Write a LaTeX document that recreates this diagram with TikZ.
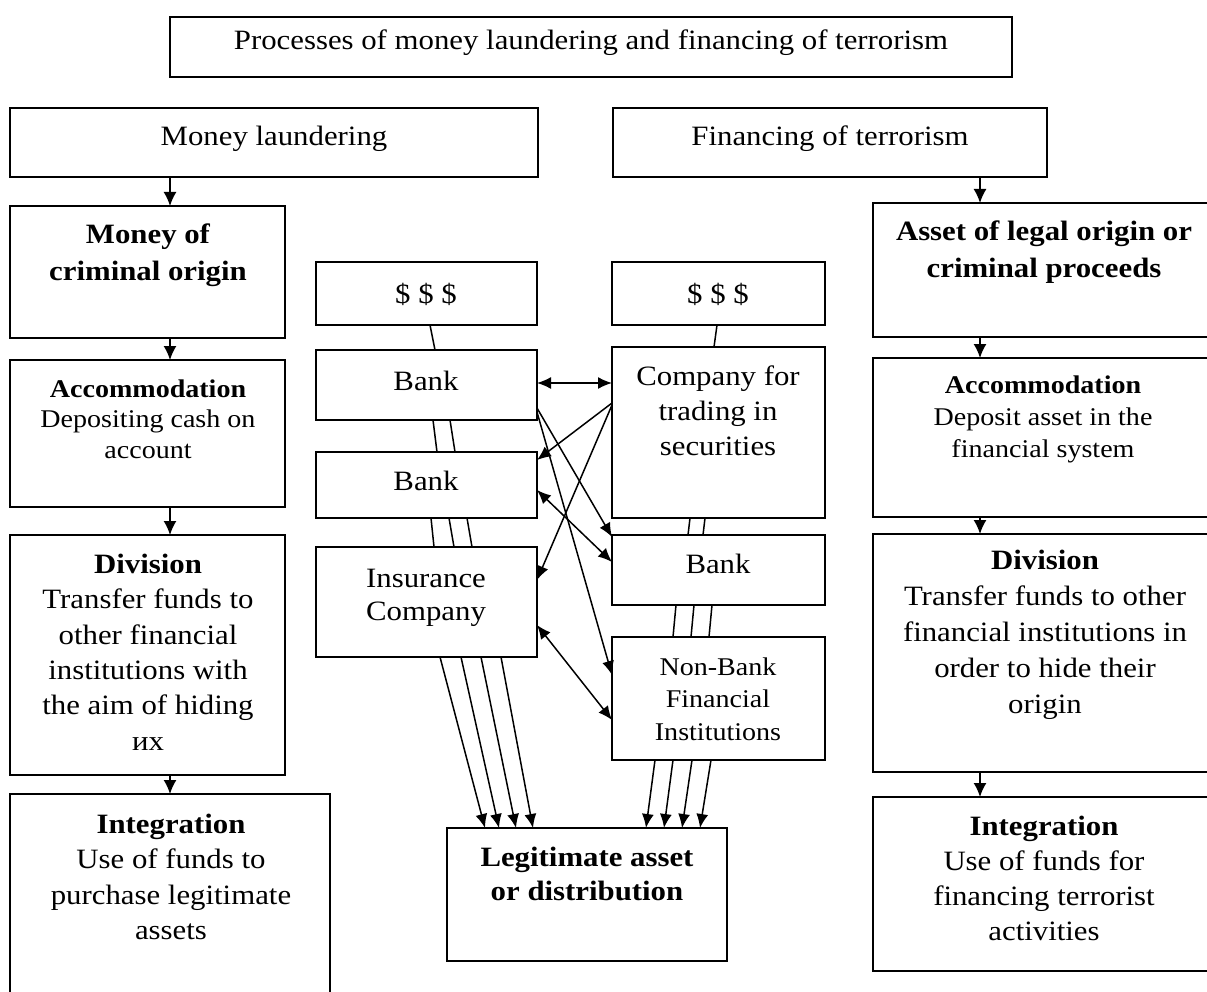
\documentclass[tikz,border=0pt]{standalone}
\usepackage{fontspec}
\setmainfont{Liberation Serif}[FakeStretch=1.1]
\usetikzlibrary{arrows.meta,fit}
\tikzset{
  bx/.style={draw, line width=2pt, fill=white, inner sep=0pt, outer sep=0pt},
  ln/.style={line width=1.5pt},
  ar/.style={ln, -{Latex[length=14pt,width=12pt]}},
  dar/.style={ln, {Latex[length=14pt,width=12pt]}-{Latex[length=14pt,width=12pt]}},
  var/.style={line width=1.6pt, -{Latex[length=14pt,width=13pt]}},
}
\newcommand\bxn[5]{\node[bx, fit={(#2,#3)(#4,#5)}] (#1) {};}
\newcommand\mytxt[6]{\node[font=\fontsize{#4}{#5}\selectfont, align=center, inner sep=0pt, anchor=north] (#1) at (#2,{#3-0.7*#5}) {\strut #6};}
\begin{document}
\begin{tikzpicture}[x=1pt,y=-1pt]
\path[use as bounding box] (0,0) rectangle (1207,992);
\clip (0,0) rectangle (1207,992);
% boxes
\bxn{title}{170}{17}{1012}{77}
\bxn{ml}{10}{108}{538}{177}
\bxn{ft}{613}{108}{1047}{177}
\bxn{mco}{10}{206}{285}{338}
\bxn{asset}{873}{203}{1215}{337}
\bxn{accL}{10}{360}{285}{507}
\bxn{accR}{873}{358}{1215}{517}
\bxn{divL}{10}{535}{285}{775}
\bxn{divR}{873}{534}{1215}{772}
\bxn{intL}{10}{794}{330}{1000}
\bxn{intR}{873}{797}{1215}{971}
\bxn{dl}{316}{262}{537}{325}
\bxn{dr}{612}{262}{825}{325}
\bxn{b1}{316}{350}{537}{420}
\bxn{b2}{316}{452}{537}{518}
\bxn{ins}{316}{547}{537}{657}
\bxn{comp}{612}{347}{825}{518}
\bxn{br}{612}{535}{825}{605}
\bxn{nb}{612}{637}{825}{760}
\bxn{leg}{447}{828}{727}{961}
% column arrows
\draw[var] (ml.south -| 170,0) -- (mco.north -| 170,0);
\draw[var] (mco.south -| 170,0) -- (accL.north -| 170,0);
\draw[var] (accL.south -| 170,0) -- (divL.north -| 170,0);
\draw[var] (divL.south -| 170,0) -- (intL.north -| 170,0);
\draw[var] (ft.south -| 980,0) -- (asset.north -| 980,0);
\draw[var] (asset.south -| 980,0) -- (accR.north -| 980,0);
\draw[var] (accR.south -| 980,0) -- (divR.north -| 980,0);
\draw[var] (divR.south -| 980,0) -- (intR.north -| 980,0);
% left flow lines
\draw[ln] (dl.south -| 430,0) -- (b1.north -| 435,0);
\draw[ln] (b1.south -| 433,0) -- (b2.north -| 437,0);
\draw[ln] (b1.south -| 450,0) -- (b2.north -| 455,0);
\draw[ln] (b2.south -| 431,0) -- (ins.north -| 434,0);
\draw[ln] (b2.south -| 449,0) -- (ins.north -| 454,0);
\draw[ln] (b2.south -| 467,0) -- (ins.north -| 472,0);
\draw[ar] (ins.south -| 440,0) -- (leg.north -| 485,0);
\draw[ar] (ins.south -| 461,0) -- (leg.north -| 499,0);
\draw[ar] (ins.south -| 481,0) -- (leg.north -| 516,0);
\draw[ar] (ins.south -| 501,0) -- (leg.north -| 533,0);
% right flow lines
\draw[ln] (dr.south -| 717,0) -- (comp.north -| 714,0);
\draw[ln] (comp.south -| 690,0) -- (br.north -| 688,0);
\draw[ln] (comp.south -| 705,0) -- (br.north -| 703,0);
\draw[ln] (br.south -| 676,0) -- (nb.north -| 673,0);
\draw[ln] (br.south -| 694,0) -- (nb.north -| 691,0);
\draw[ln] (br.south -| 712,0) -- (nb.north -| 709,0);
\draw[ar] (nb.south -| 655,0) -- (leg.north -| 646,0);
\draw[ar] (nb.south -| 673,0) -- (leg.north -| 664,0);
\draw[ar] (nb.south -| 692,0) -- (leg.north -| 682,0);
\draw[ar] (nb.south -| 711,0) -- (leg.north -| 700,0);
% cross connectors
\draw[dar] (b1.east |- 0,383) -- (comp.west |- 0,383);
\draw[ar] (comp.west |- 0,403) -- (b2.east |- 0,460);
\draw[ar] (comp.west |- 0,405) -- (ins.east |- 0,580);
\draw[ar] (b1.east |- 0,408) -- (br.west |- 0,537);
\draw[ar] (b1.east |- 0,412) -- (nb.west |- 0,675);
\draw[dar] (b2.east |- 0,490) -- (br.west |- 0,562);
\draw[dar] (ins.east |- 0,625) -- (nb.west |- 0,720);
% texts
\node[font=\fontsize{28}{34}\selectfont, anchor=base, inner sep=0pt] (titleT) at (591,50) {Processes of money laundering and financing of terrorism};
\mytxt{mlT}{274}{145}{28}{35}{Money laundering}
\mytxt{ftT}{830}{145}{28}{35}{Financing of terrorism}
\mytxt{mcoT}{148}{243}{28}{37}{\bfseries Money of\\\bfseries criminal origin}
\mytxt{assetT}{1044}{240}{28}{37}{\bfseries Asset of legal origin or\\\bfseries criminal proceeds}
\mytxt{accLT}{148}{397}{25.5}{30.5}{\textbf{Accommodation}\\Depositing cash on\\account}
\mytxt{accRT}{1043}{393}{25.5}{32}{\textbf{Accommodation}\\Deposit asset in the\\financial system}
\mytxt{divLT}{148}{573}{28}{35.4}{\textbf{Division}\\Transfer funds to\\other financial\\institutions with\\the aim of hiding\\их}
\mytxt{divRT}{1045}{569}{28}{36}{\textbf{Division}\\Transfer funds to other\\financial institutions in\\order to hide their\\origin}
\mytxt{intLT}{171}{833}{28}{35.5}{\textbf{Integration}\\Use of funds to\\purchase legitimate\\assets}
\mytxt{intRT}{1044}{835}{28}{35}{\textbf{Integration}\\Use of funds for\\financing terrorist\\activities}
\mytxt{dlT}{426}{303}{28}{35}{\$ \$ \$}
\mytxt{drT}{718}{303}{28}{35}{\$ \$ \$}
\mytxt{b1T}{426}{390}{28}{35}{Bank}
\mytxt{b2T}{426}{490}{28}{35}{Bank}
\mytxt{compT}{718}{385}{28}{35}{Company for\\trading in\\securities}
\mytxt{brT}{718}{573}{28}{35}{Bank}
\mytxt{insT}{426}{587}{28}{33}{Insurance\\Company}
\mytxt{nbT}{718}{675}{25.5}{32.5}{Non-Bank\\Financial\\Institutions}
\mytxt{legT}{587}{866}{28}{34}{\bfseries Legitimate asset\\\bfseries or distribution}
\end{tikzpicture}
\end{document}
